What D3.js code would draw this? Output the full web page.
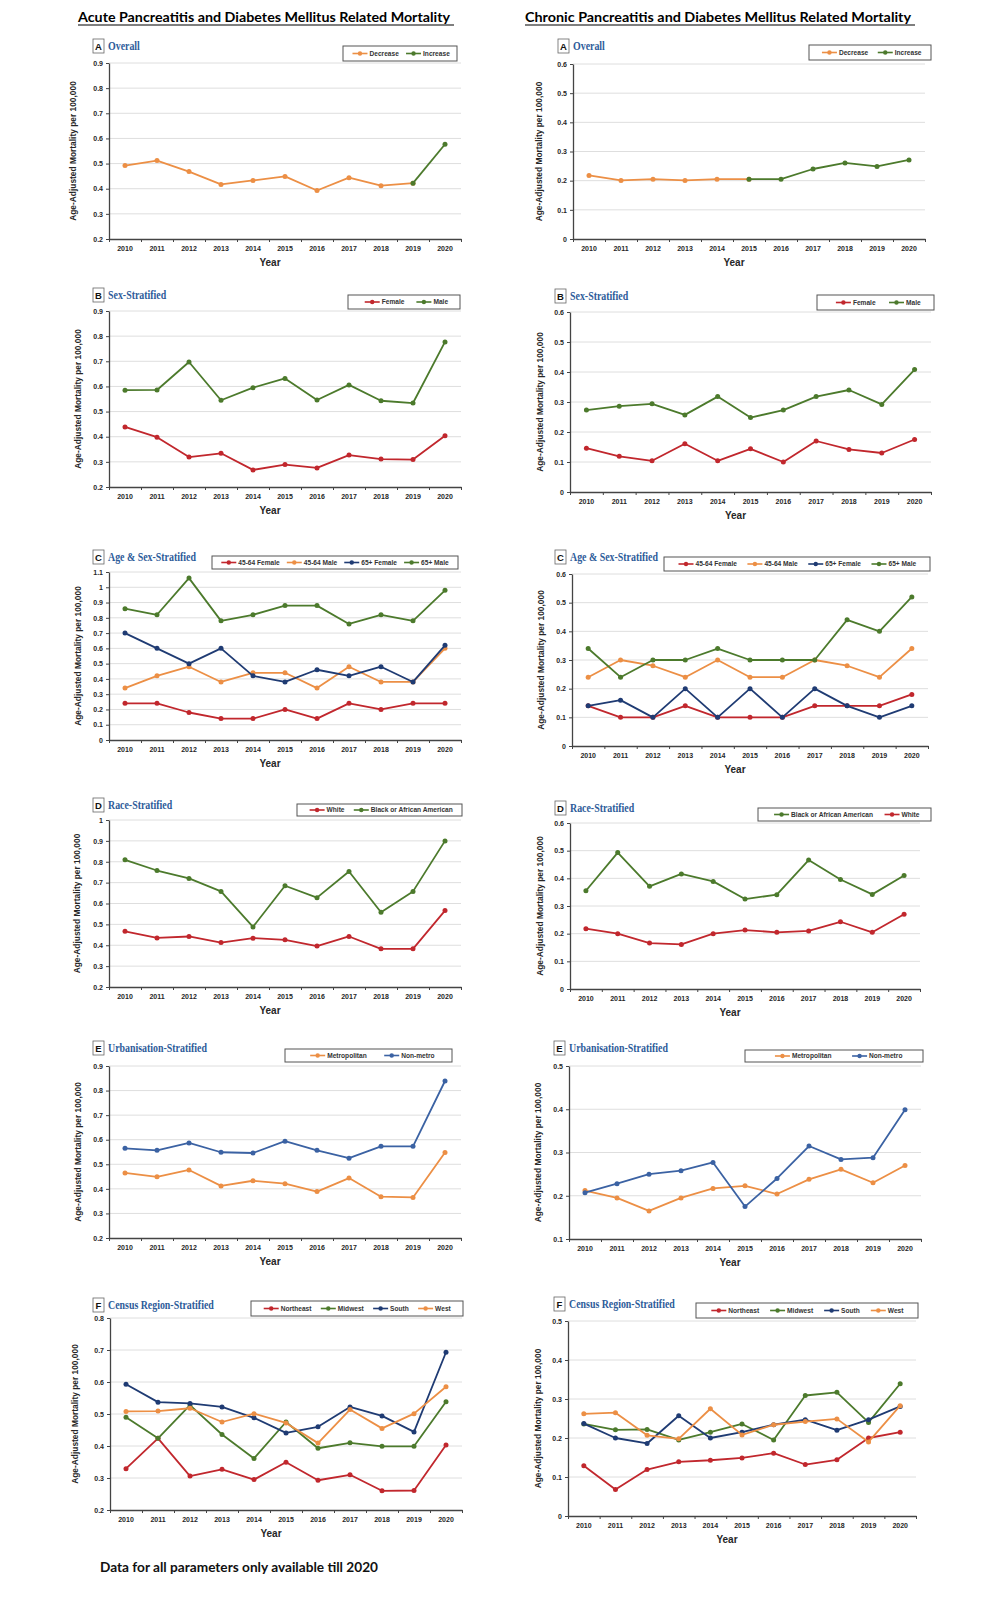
<!DOCTYPE html>
<html lang="en">
<head>
<meta charset="UTF-8">
<title>Pancreatitis and Diabetes Mellitus Related Mortality</title>
<script src="https://d3js.org/d3.v7.min.js"></script>
<style>
  body { margin: 0; background: #fff; }
  svg { display: block; }
  .tick text { font-family: "Liberation Sans", Arial, sans-serif; font-weight: bold; font-size: 7px; fill: #262626; }
</style>
</head>
<body>
<svg id="chart" width="998" height="1600"></svg>
<script>
const years = ["2010", "2011", "2012", "2013", "2014", "2015", "2016", "2017", "2018", "2019", "2020"];

// A - overall
const acuteDecrease = [0.492, 0.512, 0.468, 0.417, 0.433, 0.449, 0.393, 0.444, 0.412, 0.422];
const acuteIncrease = [0.422, 0.577];
const chronicDecrease = [0.218, 0.201, 0.205, 0.201, 0.205, 0.205];
const chronicIncrease = [0.205, 0.205, 0.240, 0.261, 0.249, 0.271];

// B - sex
const acuteFemale = [0.439, 0.398, 0.319, 0.334, 0.268, 0.289, 0.276, 0.327, 0.311, 0.309, 0.404];
const acuteMale = [0.585, 0.586, 0.697, 0.545, 0.595, 0.632, 0.546, 0.606, 0.543, 0.534, 0.777];
const chronicFemale = [0.146, 0.119, 0.104, 0.161, 0.104, 0.144, 0.100, 0.170, 0.142, 0.130, 0.175];
const chronicMale = [0.273, 0.286, 0.294, 0.257, 0.318, 0.248, 0.273, 0.318, 0.340, 0.292, 0.408];

// C - age & sex
const acuteF4564 = [0.24, 0.24, 0.18, 0.14, 0.14, 0.20, 0.14, 0.24, 0.20, 0.24, 0.24];
const acuteM4564 = [0.34, 0.42, 0.48, 0.38, 0.44, 0.44, 0.34, 0.48, 0.38, 0.38, 0.60];
const acuteF65 = [0.70, 0.60, 0.50, 0.60, 0.42, 0.38, 0.46, 0.42, 0.48, 0.38, 0.62];
const acuteM65 = [0.86, 0.82, 1.06, 0.78, 0.82, 0.88, 0.88, 0.76, 0.82, 0.78, 0.98];
const chronicF4564 = [0.14, 0.10, 0.10, 0.14, 0.10, 0.10, 0.10, 0.14, 0.14, 0.14, 0.18];
const chronicM4564 = [0.24, 0.30, 0.28, 0.24, 0.30, 0.24, 0.24, 0.30, 0.28, 0.24, 0.34];
const chronicF65 = [0.14, 0.16, 0.10, 0.20, 0.10, 0.20, 0.10, 0.20, 0.14, 0.10, 0.14];
const chronicM65 = [0.34, 0.24, 0.30, 0.30, 0.34, 0.30, 0.30, 0.30, 0.44, 0.40, 0.52];

// D - race
const acuteWhite = [0.467, 0.435, 0.442, 0.413, 0.434, 0.426, 0.396, 0.442, 0.383, 0.383, 0.566];
const acuteBlack = [0.809, 0.758, 0.720, 0.658, 0.488, 0.685, 0.628, 0.753, 0.558, 0.658, 0.900];
const chronicBlack = [0.355, 0.493, 0.371, 0.416, 0.389, 0.325, 0.341, 0.466, 0.396, 0.342, 0.410];
const chronicWhite = [0.218, 0.200, 0.166, 0.161, 0.200, 0.213, 0.205, 0.210, 0.243, 0.205, 0.270];

// E - urbanisation
const acuteMetro = [0.465, 0.449, 0.477, 0.412, 0.433, 0.421, 0.389, 0.444, 0.368, 0.365, 0.548];
const acuteNonMetro = [0.565, 0.557, 0.587, 0.549, 0.546, 0.594, 0.557, 0.525, 0.573, 0.573, 0.839];
const chronicMetro = [0.212, 0.195, 0.165, 0.195, 0.217, 0.223, 0.204, 0.238, 0.261, 0.230, 0.270];
const chronicNonMetro = [0.207, 0.228, 0.250, 0.258, 0.277, 0.175, 0.240, 0.315, 0.284, 0.288, 0.399];

// F - census region
const acuteNortheast = [0.329, 0.424, 0.306, 0.327, 0.295, 0.349, 0.293, 0.310, 0.260, 0.261, 0.403];
const acuteMidwest = [0.490, 0.424, 0.528, 0.436, 0.361, 0.475, 0.393, 0.410, 0.399, 0.399, 0.538];
const acuteSouth = [0.593, 0.537, 0.533, 0.522, 0.488, 0.441, 0.460, 0.522, 0.494, 0.444, 0.693];
const acuteWest = [0.508, 0.509, 0.518, 0.475, 0.501, 0.472, 0.409, 0.514, 0.455, 0.501, 0.585];
const chronicNortheast = [0.129, 0.068, 0.119, 0.139, 0.143, 0.149, 0.161, 0.132, 0.144, 0.200, 0.215];
const chronicMidwest = [0.236, 0.221, 0.222, 0.195, 0.215, 0.236, 0.195, 0.309, 0.317, 0.240, 0.339];
const chronicSouth = [0.237, 0.200, 0.186, 0.257, 0.200, 0.215, 0.234, 0.247, 0.220, 0.247, 0.281];
const chronicWest = [0.262, 0.265, 0.207, 0.198, 0.275, 0.208, 0.234, 0.242, 0.249, 0.190, 0.283];

const ORANGE = "#ec8f45", GREEN = "#4c7a2c", RED = "#c1272d", NAVY = "#1f3b73", BLUE = "#3b62a3";
const sans = '"Liberation Sans", Arial, sans-serif';
const serif = '"Liberation Serif", "Times New Roman", serif';
const fmt = d => String(+d.toFixed(1));

const svg = d3.select("#chart");

// column headings
const headings = [
  {text: "Acute Pancreatitis and Diabetes Mellitus Related Mortality", x: 78, w: 372},
  {text: "Chronic Pancreatitis and Diabetes Mellitus Related Mortality", x: 525, w: 386}
];
headings.forEach(h => {
  svg.append("text").attr("x", h.x).attr("y", 22)
    .attr("textLength", h.w).attr("lengthAdjust", "spacingAndGlyphs")
    .style("font-family", "Lato, 'DejaVu Sans', sans-serif").style("font-weight", "bold")
    .style("font-size", "14px").attr("fill", "#000").text(h.text);
  svg.append("line").attr("x1", h.x).attr("x2", h.x + h.w + 4).attr("y1", 25).attr("y2", 25)
    .attr("stroke", "#000").attr("stroke-width", 1.1);
});

const panels = [
  {letter: "A", title: "Overall", lx: 93, hy: 39, ax: 109, right: 461, top: 63, bottom: 239, domain: [0.2, 0.9], ylx: 73,
   legend: {x: 343, y: 46, w: 114, h: 15},
   series: [{name: "Decrease", color: ORANGE, values: acuteDecrease, start: 0},
            {name: "Increase", color: GREEN, values: acuteIncrease, start: 9}]},
  {letter: "A", title: "Overall", lx: 558, hy: 39, ax: 573, right: 925, top: 64, bottom: 239, domain: [0, 0.6], ylx: 539,
   legend: {x: 809, y: 45, w: 122, h: 15},
   series: [{name: "Decrease", color: ORANGE, values: chronicDecrease, start: 0},
            {name: "Increase", color: GREEN, values: chronicIncrease, start: 5}]},
  {letter: "B", title: "Sex-Stratified", lx: 93, hy: 288, ax: 109, right: 461, top: 311, bottom: 487, domain: [0.2, 0.9], ylx: 78,
   legend: {x: 348, y: 295, w: 112, h: 14},
   series: [{name: "Female", color: RED, values: acuteFemale, start: 0},
            {name: "Male", color: GREEN, values: acuteMale, start: 0}]},
  {letter: "B", title: "Sex-Stratified", lx: 555, hy: 289, ax: 570, right: 931, top: 312, bottom: 492, domain: [0, 0.6], ylx: 540,
   legend: {x: 817, y: 295, w: 117, h: 15},
   series: [{name: "Female", color: RED, values: chronicFemale, start: 0},
            {name: "Male", color: GREEN, values: chronicMale, start: 0}]},
  {letter: "C", title: "Age & Sex-Stratified", lx: 93, hy: 550, ax: 109, right: 461, top: 572, bottom: 740, domain: [0, 1.1], ylx: 78,
   legend: {x: 212, y: 556, w: 246, h: 13},
   series: [{name: "45-64 Female", color: RED, values: acuteF4564, start: 0},
            {name: "45-64 Male", color: ORANGE, values: acuteM4564, start: 0},
            {name: "65+ Female", color: NAVY, values: acuteF65, start: 0},
            {name: "65+ Male", color: GREEN, values: acuteM65, start: 0}]},
  {letter: "C", title: "Age & Sex-Stratified", lx: 555, hy: 550, ax: 572, right: 928, top: 574, bottom: 746, domain: [0, 0.6], ylx: 541,
   legend: {x: 664, y: 557, w: 266, h: 14},
   series: [{name: "45-64 Female", color: RED, values: chronicF4564, start: 0},
            {name: "45-64 Male", color: ORANGE, values: chronicM4564, start: 0},
            {name: "65+ Female", color: NAVY, values: chronicF65, start: 0},
            {name: "65+ Male", color: GREEN, values: chronicM65, start: 0}]},
  {letter: "D", title: "Race-Stratified", lx: 93, hy: 798, ax: 109, right: 461, top: 820, bottom: 987, domain: [0.2, 1], ylx: 77,
   legend: {x: 297, y: 804, w: 165, h: 12},
   series: [{name: "White", color: RED, values: acuteWhite, start: 0},
            {name: "Black or African American", color: GREEN, values: acuteBlack, start: 0}]},
  {letter: "D", title: "Race-Stratified", lx: 555, hy: 801, ax: 570, right: 920, top: 823, bottom: 989, domain: [0, 0.6], ylx: 540,
   legend: {x: 758, y: 808, w: 173, h: 13},
   series: [{name: "Black or African American", color: GREEN, values: chronicBlack, start: 0},
            {name: "White", color: RED, values: chronicWhite, start: 0}]},
  {letter: "E", title: "Urbanisation-Stratified", lx: 93, hy: 1041, ax: 109, right: 461, top: 1066, bottom: 1238, domain: [0.2, 0.9], ylx: 78,
   legend: {x: 285, y: 1049, w: 167, h: 13},
   series: [{name: "Metropolitan", color: ORANGE, values: acuteMetro, start: 0},
            {name: "Non-metro", color: BLUE, values: acuteNonMetro, start: 0}]},
  {letter: "E", title: "Urbanisation-Stratified", lx: 554, hy: 1041, ax: 569, right: 921, top: 1066, bottom: 1239, domain: [0.1, 0.5], ylx: 538,
   legend: {x: 745, y: 1050, w: 178, h: 12},
   series: [{name: "Metropolitan", color: ORANGE, values: chronicMetro, start: 0},
            {name: "Non-metro", color: BLUE, values: chronicNonMetro, start: 0}]},
  {letter: "F", title: "Census Region-Stratified", lx: 93, hy: 1298, ax: 110, right: 462, top: 1318, bottom: 1510, domain: [0.2, 0.8], ylx: 75,
   legend: {x: 251, y: 1301, w: 212, h: 15},
   series: [{name: "Northeast", color: RED, values: acuteNortheast, start: 0},
            {name: "Midwest", color: GREEN, values: acuteMidwest, start: 0},
            {name: "South", color: NAVY, values: acuteSouth, start: 0},
            {name: "West", color: ORANGE, values: acuteWest, start: 0}]},
  {letter: "F", title: "Census Region-Stratified", lx: 554, hy: 1297, ax: 568, right: 916, top: 1321, bottom: 1516, domain: [0, 0.5], ylx: 538,
   legend: {x: 696, y: 1303, w: 222, h: 15},
   series: [{name: "Northeast", color: RED, values: chronicNortheast, start: 0},
            {name: "Midwest", color: GREEN, values: chronicMidwest, start: 0},
            {name: "South", color: NAVY, values: chronicSouth, start: 0},
            {name: "West", color: ORANGE, values: chronicWest, start: 0}]}
];

panels.forEach(p => {
  const g = svg.append("g");
  const x = d3.scaleBand().domain(years).range([p.ax, p.right]);
  const y = d3.scaleLinear().domain(p.domain).range([p.bottom, p.top]);
  const nT = Math.round((p.domain[1] - p.domain[0]) / 0.1);
  const ticks = d3.range(nT + 1).map(i => +(p.domain[0] + i * 0.1).toFixed(1));

  // gridlines
  g.append("g").selectAll("line").data(ticks.slice(1)).join("line")
    .attr("x1", p.ax).attr("x2", p.right)
    .attr("y1", d => y(d)).attr("y2", d => y(d))
    .attr("stroke", "#dedede").attr("stroke-width", 1);

  // y axis
  const ya = g.append("g").attr("transform", `translate(${p.ax},0)`)
    .call(d3.axisLeft(y).tickValues(ticks).tickFormat(fmt).tickSize(3).tickSizeOuter(0).tickPadding(3));
  ya.select(".domain").attr("stroke", "#444").attr("stroke-width", 1.3);
  ya.selectAll(".tick line").attr("stroke", "#444");

  // x axis: labels at category centres, ticks between categories
  const xa = g.append("g").attr("transform", `translate(0,${p.bottom})`)
    .call(d3.axisBottom(x).tickSize(0).tickSizeOuter(0).tickPadding(7));
  xa.select(".domain").attr("stroke", "#444").attr("stroke-width", 1.3);
  const xb = d3.scaleLinear().domain([0, years.length]).range([p.ax, p.right]);
  g.append("g").attr("transform", `translate(0,${p.bottom})`)
    .call(d3.axisBottom(xb).ticks(years.length).tickFormat("").tickSize(3).tickSizeOuter(0))
    .call(s => s.select(".domain").remove())
    .selectAll(".tick line").attr("stroke", "#444");

  // axis titles
  svg.append("text").attr("x", (p.ax + p.right) / 2 - 15).attr("y", p.bottom + 27)
    .attr("text-anchor", "middle").style("font-family", sans).style("font-weight", "bold")
    .style("font-size", "10px").attr("fill", "#262626").text("Year");
  svg.append("text")
    .attr("transform", `translate(${p.ylx},${(p.top + p.bottom) / 2}) rotate(-90)`)
    .attr("text-anchor", "middle").attr("dy", "0.35em")
    .style("font-family", sans).style("font-weight", "bold").style("font-size", "8.4px")
    .attr("fill", "#262626").text("Age-Adjusted Mortality per 100,000");

  // panel heading
  svg.append("rect").attr("x", p.lx).attr("y", p.hy).attr("width", 11).attr("height", 14)
    .attr("fill", "#fff").attr("stroke", "#666").attr("stroke-width", 0.8);
  svg.append("text").attr("x", p.lx + 5.5).attr("y", p.hy + 11).attr("text-anchor", "middle")
    .style("font-family", sans).style("font-weight", "bold").style("font-size", "9.5px")
    .attr("fill", "#111").text(p.letter);
  const ht = svg.append("text").attr("x", p.lx + 15).attr("y", p.hy + 10.5)
    .style("font-family", serif).style("font-weight", "bold").style("font-size", "11.5px")
    .attr("fill", "#2e5c9a").text(p.title);
  ht.attr("textLength", ht.node().getComputedTextLength() * 0.86).attr("lengthAdjust", "spacingAndGlyphs");

  // series
  const line = d3.line();
  p.series.forEach(s => {
    const pts = s.values.map((v, i) => [x(years[s.start + i]) + x.bandwidth() / 2, y(v)]);
    g.append("path").attr("d", line(pts)).attr("fill", "none")
      .attr("stroke", s.color).attr("stroke-width", 1.8).attr("stroke-linejoin", "round");
    g.append("g").selectAll("circle").data(pts).join("circle")
      .attr("cx", d => d[0]).attr("cy", d => d[1]).attr("r", 2.5).attr("fill", s.color);
  });

  // legend
  const L = p.legend;
  const lg = svg.append("g");
  lg.append("rect").attr("x", L.x).attr("y", L.y).attr("width", L.w).attr("height", L.h)
    .attr("fill", "#fff").attr("stroke", "#555").attr("stroke-width", 1);
  const items = p.series.map(s => {
    const t = lg.append("text").attr("y", L.y + L.h / 2).attr("dy", "0.35em")
      .style("font-family", sans).style("font-weight", "bold").style("font-size", "6.6px")
      .attr("fill", "#333").text(s.name);
    return {s, t, w: 18 + t.node().getComputedTextLength()};
  });
  const total = d3.sum(items, d => d.w);
  const gap = (L.w - total) / (items.length + 1);
  let cx = L.x + gap * 1.3;
  items.forEach(it => {
    const cy = L.y + L.h / 2;
    lg.append("line").attr("x1", cx).attr("x2", cx + 15).attr("y1", cy).attr("y2", cy)
      .attr("stroke", it.s.color).attr("stroke-width", 1.6);
    lg.append("circle").attr("cx", cx + 7.5).attr("cy", cy).attr("r", 2.2).attr("fill", it.s.color);
    it.t.attr("x", cx + 17);
    cx += it.w + gap * 0.85;
  });
});

svg.append("text").attr("x", 100).attr("y", 1572)
  .attr("textLength", 278).attr("lengthAdjust", "spacingAndGlyphs")
  .style("font-family", "Lato, 'DejaVu Sans', sans-serif").style("font-weight", "bold")
  .style("font-size", "12.5px").attr("fill", "#111")
  .text("Data for all parameters only available till 2020");
</script>
</body>
</html>
